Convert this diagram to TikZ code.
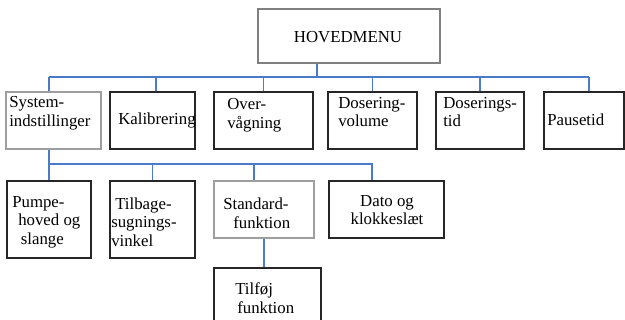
\documentclass[tikz,border=0pt]{standalone}
\usepackage{fontspec}
\setmainfont{Liberation Serif}
\usetikzlibrary{fit}
\begin{document}
\begin{tikzpicture}[x=0.75pt,y=-0.75pt,
  box/.style={draw=black!85, line width=1.1pt, inner sep=0pt},
  greybox/.style={draw=black!38, line width=1.2pt, inner sep=0pt},
  topbox/.style={draw=black!50, line width=1.1pt, inner sep=0pt},
  conn/.style={draw={rgb,255:red,74;green,122;blue,200}, line width=0.8pt},
  txt/.style={inner sep=0pt, align=left, font=\fontsize{12.6}{14}\selectfont},
  ctxt/.style={inner sep=0pt, align=center, font=\fontsize{12.6}{14}\selectfont}]
\useasboundingbox (0,0) rectangle (625,320);
\clip (0,0) rectangle (625,320);
% boxes
\node[topbox, fit={(258,9) (440,63)}] (hm) {};
\node[greybox, fit={(6,92) (101,149)}] (sys) {};
\node[box, fit={(110,92) (195,149)}] (kal) {};
\node[box, fit={(214,92) (313,149)}] (ovr) {};
\node[box, fit={(328,92) (417,149)}] (dvol) {};
\node[box, fit={(436,92) (524,149)}] (dtid) {};
\node[box, fit={(544,92) (624,149)}] (pau) {};
\node[box, fit={(7,181) (91,258)}] (pum) {};
\node[box, fit={(110,181) (195,258)}] (til) {};
\node[greybox, fit={(214,181) (314,238)}] (std) {};
\node[box, fit={(329,181) (444,238)}] (dato) {};
\node[box, fit={(214,268) (321,340)}] (tfj) {};
% texts
\node[ctxt] (thm) at (348,37) {HOVEDMENU};
\node[txt, anchor=west] (tsys) at (9,113) {System-\\indstillinger};
\node[txt, anchor=west] (tkal) at (118,120) {Kalibrering};
\node[txt, anchor=west] (tovr) at (227,115) {Over-\\vågning};
\node[txt, anchor=west] (tdvol) at (338,112) {Dosering-\\volume};
\node[txt, anchor=west] (tdtid) at (443,112) {Doserings-\\tid};
\node[txt, anchor=west] (tpau) at (547,120) {Pausetid};
\node[txt, anchor=west] (tpum) at (12,222) {Pumpe-\\\hspace*{4.5pt}hoved og\\\hspace*{6.5pt}slange};
\node[txt, anchor=west] (ttil) at (111,222) {\hspace*{3pt}Tilbage-\\sugnings-\\vinkel};
\node[txt, anchor=west] (tstd) at (223,213) {Standard-\\\hspace*{7.5pt}funktion};
\node[ctxt] (tdato) at (387,210) {Dato og\\klokkeslæt};
\node[txt, anchor=west] (ttfj) at (235,298) {Tilføj\\\hspace*{1.5pt}funktion};
% connectors
\coordinate (hmd) at (317,77);
\coordinate (busL) at (49,77);
\coordinate (busR) at (589,77);
\draw[conn] (hmd |- hm.south) -- (hmd);
\draw[conn] (busL) -- (busR);
\draw[conn] (busL) -- (busL |- sys.north);
\draw[conn] (kal.north -| 156,0) -- (156,77);
\draw[conn] (ovr.north) -- (ovr.north |- busL);
\draw[conn] (dvol.north) -- (dvol.north |- busL);
\draw[conn] (dtid.north) -- (dtid.north |- busL);
\draw[conn] (busR) -- (busR |- pau.north);
\coordinate (b2L) at (49,164);
\coordinate (b2R) at (372,164);
\coordinate (b2S) at (254,164);
\draw[conn] (b2L |- sys.south) -- (b2L) -- (b2R) -- (b2R |- dato.north);
\draw[conn] (pum.north) -- (pum.north |- b2L);
\draw[conn] (til.north) -- (til.north |- b2L);
\draw[conn] (b2S) -- (b2S |- std.north);
\draw[conn] (std.south -| 264,0) -- (tfj.north -| 264,0);
\end{tikzpicture}
\end{document}
